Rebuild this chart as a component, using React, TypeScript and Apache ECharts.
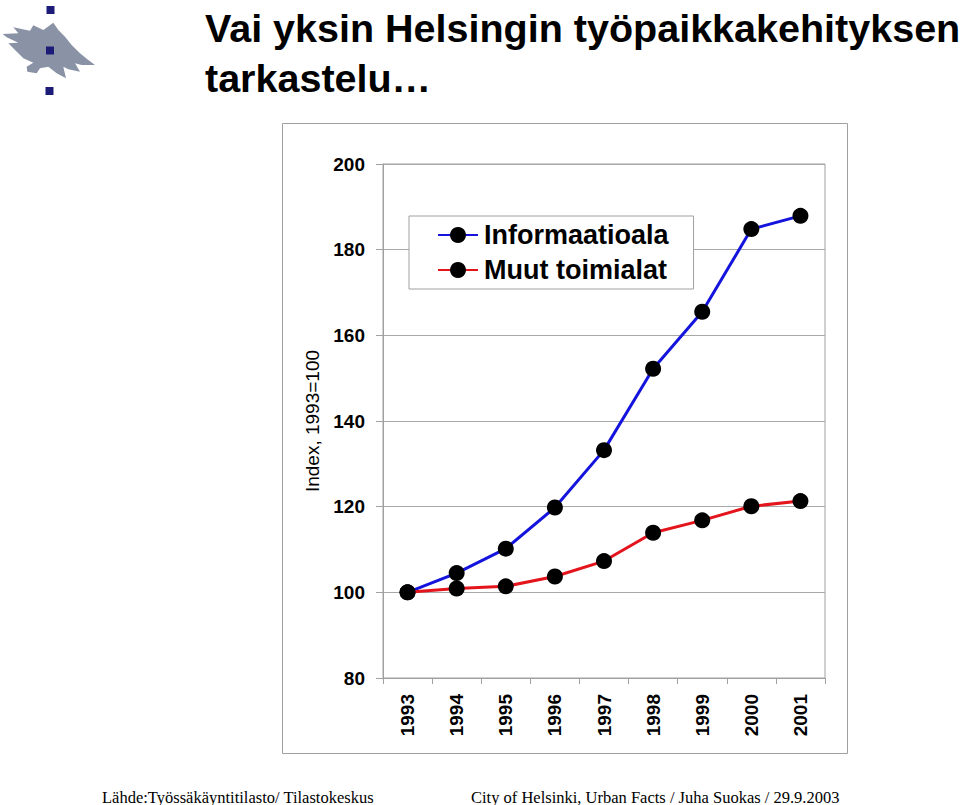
import React, { useEffect, useRef } from "react";
import * as echarts from "echarts";

const years = ["1993", "1994", "1995", "1996", "1997", "1998", "1999", "2000", "2001"];
const informaatioala = [100, 104.5, 110.2, 119.8, 133.2, 152.2, 165.5, 184.8, 187.9];
const muutToimialat = [100, 100.9, 101.4, 103.7, 107.3, 113.9, 116.8, 120.1, 121.3];
const seriesNames = ["Informaatioala", "Muut toimialat"];
const yMin = 80;
const yMax = 200;
const yStep = 20;
const titleLines = ["Vai yksin Helsingin työpaikkakehityksen", "tarkastelu…"];
const yAxisTitle = "Index, 1993=100";
const sourceLeft = "Lähde:Työssäkäyntitilasto/ Tilastokeskus";
const sourceRight = "City of Helsinki, Urban Facts / Juha Suokas / 29.9.2003";

const SANS = "'Liberation Sans', Arial, Helvetica, sans-serif";
const SERIF = "'Liberation Serif', 'Times New Roman', serif";

const flameZoomPts: number[][] = [
  [8, 102], [55, 100], [40, 82], [90, 92], [100, 76], [130, 90], [160, 68], [175, 90],
  [195, 110], [215, 135], [240, 160], [262, 178], [285, 195], [245, 195], [225, 190],
  [240, 215], [205, 208], [190, 200], [198, 235], [170, 220], [145, 200], [120, 205],
  [110, 220], [82, 215], [80, 200], [100, 188], [70, 175], [45, 150], [25, 130],
  [55, 128], [20, 112],
];

export default function App() {
  const ref = useRef<HTMLDivElement>(null);
  useEffect(() => {
    document.body.style.margin = "0";
    const chart = echarts.init(ref.current!, null, { renderer: "svg" });
    const navy = "#1c1c78";
    const option: any = {
      animation: false,
      backgroundColor: "#ffffff",
      grid: {
        left: 383,
        right: 135,
        top: 164,
        bottom: 127,
        show: true,
        borderColor: "#a0a0a0",
        borderWidth: 1,
        outerBoundsMode: "none",
        containLabel: false,
      },
      legend: {
        orient: "vertical",
        left: 409,
        top: 216,
        data: seriesNames,
        padding: [4, 25, 4, 28],
        itemGap: 5,
        itemWidth: 40,
        itemHeight: 20,
        backgroundColor: "#ffffff",
        borderColor: "#a0a0a0",
        borderWidth: 1,
        borderRadius: 0,
        textStyle: {
          fontFamily: SANS,
          fontSize: 27,
          fontWeight: "bold",
          color: "#000",
          lineHeight: 30,
          padding: [0, 0, 0, 1],
        },
      },
      xAxis: {
        type: "category",
        data: years,
        boundaryGap: true,
        axisLine: { lineStyle: { color: "#a0a0a0", width: 1 } },
        axisTick: { show: true, length: 6, lineStyle: { color: "#a0a0a0" } },
        axisLabel: {
          rotate: 90,
          margin: 16,
          fontFamily: SANS,
          fontSize: 19,
          fontWeight: "bold",
          color: "#000",
        },
        splitLine: { show: false },
      },
      yAxis: {
        type: "value",
        min: yMin,
        max: yMax,
        interval: yStep,
        axisLine: { show: true, lineStyle: { color: "#a0a0a0", width: 1 } },
        axisTick: { show: true, length: 7, lineStyle: { color: "#a0a0a0" } },
        axisLabel: {
          margin: 18,
          fontFamily: SANS,
          fontSize: 19,
          fontWeight: "bold",
          color: "#000",
        },
        splitLine: { show: true, lineStyle: { color: "#a8a8a8", width: 1 } },
      },
      series: [
        {
          name: seriesNames[0],
          type: "line",
          data: informaatioala,
          symbol: "circle",
          symbolSize: 16,
          lineStyle: { color: "#1414dc", width: 3 },
          itemStyle: { color: "#000000", borderWidth: 0 },
          z: 3,
        },
        {
          name: seriesNames[1],
          type: "line",
          data: muutToimialat,
          symbol: "circle",
          symbolSize: 16,
          lineStyle: { color: "#e4141c", width: 3 },
          itemStyle: { color: "#000000", borderWidth: 0 },
          z: 4,
        },
      ],
      graphic: [
        {
          type: "rect",
          shape: { x: 282.5, y: 123.5, width: 565, height: 630 },
          style: { fill: "none", stroke: "#a0a0a0", lineWidth: 1 },
          silent: true,
          z: -10,
        },
        {
          type: "group",
          x: 0,
          y: 0,
          children: [
            {
              type: "polygon",
              shape: { points: flameZoomPts.map((p) => [p[0] / 3, p[1] / 3]) },
              style: { fill: "#8a93a5" },
            },
            { type: "rect", shape: { x: 46.5, y: 6, width: 8, height: 8 }, style: { fill: navy } },
            { type: "rect", shape: { x: 46, y: 46.5, width: 8, height: 8 }, style: { fill: navy } },
            { type: "rect", shape: { x: 45.5, y: 87, width: 8, height: 8 }, style: { fill: navy } },
          ],
        },
        {
          type: "text",
          x: 205,
          y: 28,
          style: {
            text: titleLines[0],
            fontFamily: SANS,
            fontSize: 39.5,
            fontWeight: "bold",
            fill: "#000",
            textAlign: "left",
            textVerticalAlign: "middle",
          },
        },
        {
          type: "text",
          x: 205,
          y: 78,
          style: {
            text: titleLines[1],
            fontFamily: SANS,
            fontSize: 39.5,
            fontWeight: "bold",
            fill: "#000",
            textAlign: "left",
            textVerticalAlign: "middle",
          },
        },
        {
          type: "text",
          x: 312,
          y: 421,
          rotation: Math.PI / 2,
          style: {
            text: yAxisTitle,
            fontFamily: SANS,
            fontSize: 19,
            fill: "#000",
            textAlign: "center",
            textVerticalAlign: "middle",
          },
        },
        {
          type: "text",
          x: 102,
          y: 797,
          style: {
            text: sourceLeft,
            fontFamily: SERIF,
            fontSize: 16.5,
            fill: "#000",
            textAlign: "left",
            textVerticalAlign: "middle",
          },
        },
        {
          type: "text",
          x: 471,
          y: 797,
          style: {
            text: sourceRight,
            fontFamily: SERIF,
            fontSize: 16.5,
            fill: "#000",
            textAlign: "left",
            textVerticalAlign: "middle",
          },
        },
      ],
    };
    chart.setOption(option);
    return () => chart.dispose();
  }, []);
  return <div ref={ref} style={{ width: 960, height: 805 }} />;
}
